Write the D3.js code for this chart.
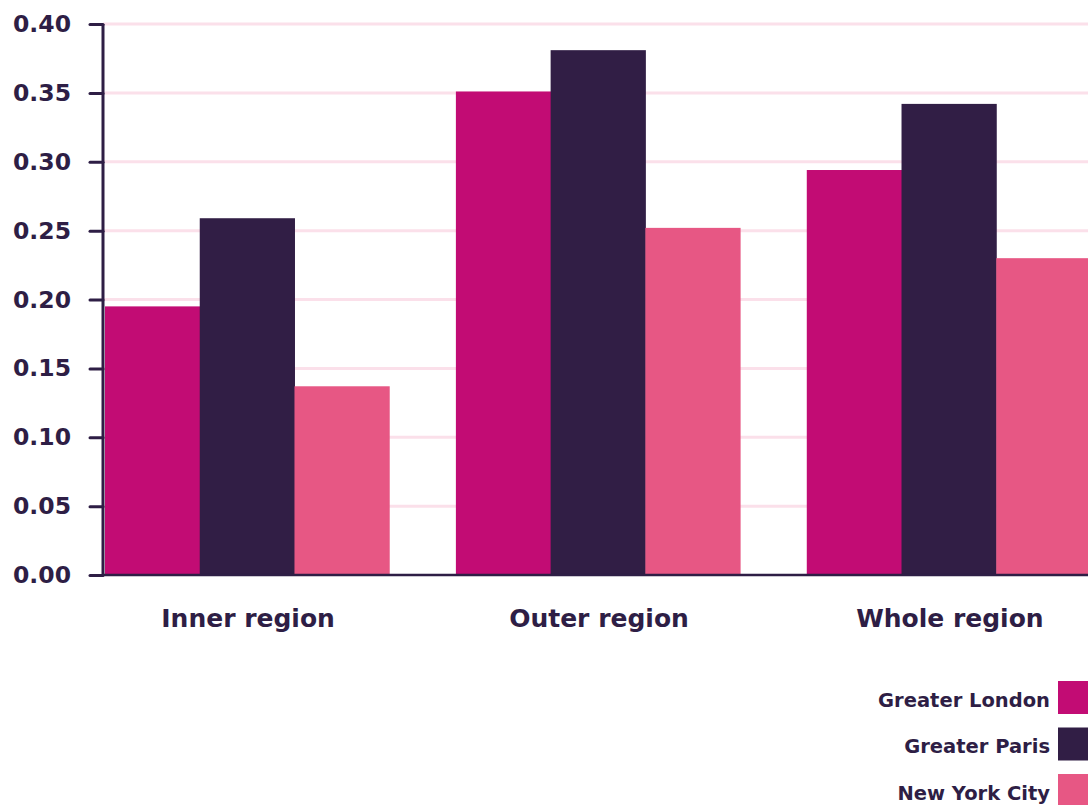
<!DOCTYPE html>
<html>
<head>
<meta charset="utf-8">
<script src="https://cdn.jsdelivr.net/npm/d3@7"></script>
<style>
  body { margin: 0; background: #fff; overflow: hidden; }
  text { font-family: "DejaVu Sans", sans-serif; fill: #2e1e45; }
</style>
</head>
<body>
<svg id="chart" width="1088" height="805"></svg>
<script>
// data
var categories = ["Inner region", "Outer region", "Whole region"];
var seriesNames = ["Greater London", "Greater Paris", "New York City"];
var londonValues = [0.195, 0.351, 0.294];
var parisValues  = [0.259, 0.381, 0.342];
var nycValues    = [0.137, 0.252, 0.230];
var yTicks = [0, 0.05, 0.10, 0.15, 0.20, 0.25, 0.30, 0.35, 0.40];

var colors = ["#c20c74", "#311e45", "#e75784"];
var series = [londonValues, parisValues, nycValues];

var svg = d3.select("#chart");
var axisX = 103, baseY = 575, topY = 24;

var y = d3.scaleLinear().domain([0, 0.40]).range([baseY, topY]);

var x0 = d3.scaleBand()
    .domain(categories)
    .range([105, 1091])
    .paddingInner(0.19)
    .paddingOuter(0);

var x1 = d3.scaleBand()
    .domain(seriesNames)
    .range([0, x0.bandwidth()])
    .padding(0);

// gridlines
svg.append("g").selectAll("line")
  .data(yTicks.filter(function(d) { return d > 0; }))
  .enter().append("line")
    .attr("x1", axisX).attr("x2", 1088)
    .attr("y1", function(d) { return y(d); })
    .attr("y2", function(d) { return y(d); })
    .attr("stroke", "#fbe0ea")
    .attr("stroke-width", 3);

// bars
var groups = svg.append("g").selectAll("g")
  .data(categories)
  .enter().append("g")
    .attr("transform", function(d) { return "translate(" + x0(d) + ",0)"; });

groups.selectAll("rect")
  .data(function(c, i) {
    return seriesNames.map(function(s, j) { return {name: s, value: series[j][i], k: j}; });
  })
  .enter().append("rect")
    .attr("x", function(d) { return x1(d.name); })
    .attr("y", function(d) { return y(d.value); })
    .attr("width", x1.bandwidth() + 0.5)
    .attr("height", function(d) { return baseY - y(d.value); })
    .attr("fill", function(d) { return colors[d.k]; });

// baseline
svg.append("line")
  .attr("x1", axisX).attr("x2", 1088)
  .attr("y1", baseY).attr("y2", baseY)
  .attr("stroke", "#2e1e45").attr("stroke-width", 2.5);

// y axis
var yAxis = svg.append("g")
  .attr("transform", "translate(" + axisX + ",0)")
  .call(d3.axisLeft(y).tickValues(yTicks).tickFormat(d3.format(".2f")).tickSize(13).tickPadding(19));

yAxis.select(".domain")
  .attr("d", "M0," + topY + "V" + baseY)
  .attr("stroke", "#2e1e45").attr("stroke-width", 3);
yAxis.selectAll(".tick line").attr("stroke", "#2e1e45").attr("stroke-width", 3)
  .attr("stroke-linecap", "round");
yAxis.selectAll(".tick text")
  .attr("font-size", 23.5).attr("font-weight", 700)
  .style("fill", "#2e1e45")
  .attr("font-family", "DejaVu Sans, sans-serif");

// category labels
svg.append("g").selectAll("text")
  .data(categories)
  .enter().append("text")
    .attr("x", function(d) { return x0(d) + x0.bandwidth() / 2 + 1; })
    .attr("y", 627)
    .attr("text-anchor", "middle")
    .attr("font-size", 25)
    .attr("font-weight", 700)
    .text(function(d) { return d; });

// legend
var legend = svg.append("g").selectAll("g")
  .data(seriesNames)
  .enter().append("g")
    .attr("transform", function(d, i) { return "translate(0," + (681 + i * 46.5) + ")"; });

legend.append("rect")
  .attr("x", 1058).attr("y", 0)
  .attr("width", 40).attr("height", 33)
  .attr("fill", function(d, i) { return colors[i]; });

legend.append("text")
  .attr("x", 1050).attr("y", 20)
  .attr("text-anchor", "end")
  .attr("dominant-baseline", "middle")
  .attr("font-size", 19.5)
  .attr("font-weight", 700)
  .text(function(d) { return d; });
</script>
</body>
</html>
